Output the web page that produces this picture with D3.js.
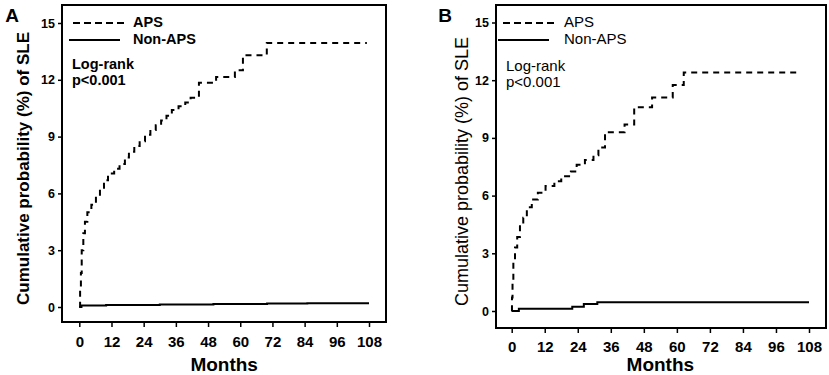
<!DOCTYPE html>
<html lang="en">
<head>
  <meta charset="UTF-8">
  <title>Cumulative probability of SLE</title>
  <script src="https://d3js.org/d3.v7.min.js"></script>
  <style>
    * { margin: 0; padding: 0; box-sizing: border-box; }
    body { background: #fff; font-family: Arial, "Liberation Sans", sans-serif; }
    svg { display: block; }
  </style>
</head>
<body>
  <div id="chart"></div>
  <script>
    // tick labels
    const monthTicks = [0, 12, 24, 36, 48, 60, 72, 84, 96, 108];
    const probTicks = [0, 3, 6, 9, 12, 15];

    // panel A, APS (months, cumulative %)
    const apsMonthsA = [0, 0.3, 0.6, 0.9, 1.5, 2.1, 3.0, 4.5, 6.2, 7.7, 9.2, 10.7, 13, 15, 17, 18.5, 20.5, 22.5, 24.5, 26.5, 28.5, 30.5, 32.5, 34.5, 37, 39.5, 41.5, 44.6, 51, 58, 61, 69.9, 107.2];
    const apsValuesA = [0, 1.0, 1.8, 3.0, 3.9, 4.5, 5.0, 5.4, 5.85, 6.3, 6.7, 7.05, 7.3, 7.55, 7.9, 8.2, 8.5, 8.75, 9.1, 9.35, 9.6, 9.85, 10.1, 10.4, 10.6, 10.8, 11.05, 11.85, 12.15, 12.5, 13.3, 13.95, 13.95];
    // panel A, Non-APS
    const nonMonthsA = [0, 0.8, 10, 30, 50, 70, 85, 108];
    const nonValuesA = [0, 0.08, 0.1, 0.13, 0.16, 0.19, 0.2, 0.2];

    // panel B, APS
    const apsMonthsB = [0, 0.1, 0.3, 0.6, 1.2, 2, 3, 4.2, 5.5, 7.3, 9.5, 12.3, 15.5, 18, 21.5, 23.6, 26.6, 29.7, 31.5, 33.9, 41, 44.5, 51, 58.5, 62.5, 103.6];
    const apsValuesB = [0, 0.7, 1.6, 2.6, 3.3, 3.85, 4.5, 4.85, 5.4, 5.8, 6.15, 6.5, 6.75, 7.0, 7.25, 7.6, 7.85, 8.1, 8.5, 9.3, 9.7, 10.6, 11.1, 11.75, 12.4, 12.4];
    // panel B, Non-APS
    const nonMonthsB = [0, 2.6, 22, 26.2, 31.1, 108];
    const nonValuesB = [0, 0.12, 0.22, 0.36, 0.46, 0.46];

    const zip = (ms, vs) => ms.map((m, i) => ({ m, v: vs[i] }));

    const svg = d3.select("#chart").append("svg")
      .attr("width", 829)
      .attr("height", 375);

    const panels = [
      {
        letter: "A", letterX: 12, bold: true,
        box: { left: 62, right: 386, top: 5, bottom: 322 },
        xr: [79.3, 369], yr: [307, 23],
        ylabX: 25, tickLabY: 342,
        legX: 73, legSolidX: 69, legTextX: 133, logX: 72, logY: 69,
        legFont: 14.5,
        aps: zip(apsMonthsA, apsValuesA), non: zip(nonMonthsA, nonValuesA)
      },
      {
        letter: "B", letterX: 445, bold: false,
        box: { left: 496, right: 826, top: 5, bottom: 328 },
        xr: [511.7, 809], yr: [311, 22.5],
        ylabX: 463, tickLabY: 347,
        legX: 503, legSolidX: 498, legTextX: 564, logX: 506, logY: 71,
        legFont: 15,
        aps: zip(apsMonthsB, apsValuesB), non: zip(nonMonthsB, nonValuesB)
      }
    ];

    panels.forEach(p => {
      const g = svg.append("g");
      const x = d3.scaleLinear().domain([0, 108]).range(p.xr);
      const y = d3.scaleLinear().domain([0, 15]).range(p.yr);
      const b = p.box;

      // panel letter
      g.append("text")
        .attr("x", p.letterX)
        .attr("y", 22)
        .attr("text-anchor", "middle")
        .style("font-size", "19px")
        .style("font-weight", "bold")
        .text(p.letter);

      // box
      g.append("rect")
        .attr("x", b.left)
        .attr("y", b.top)
        .attr("width", b.right - b.left)
        .attr("height", b.bottom - b.top)
        .attr("fill", "none")
        .attr("stroke", "#000")
        .attr("stroke-width", 2);

      // y axis
      const yAxis = g.append("g")
        .attr("transform", `translate(${b.left},0)`)
        .call(d3.axisLeft(y).tickValues(probTicks).tickSize(4).tickPadding(3).tickSizeOuter(0));
      yAxis.select(".domain").remove();
      yAxis.selectAll("line").attr("stroke-width", 1.5);
      yAxis.selectAll("text")
        .style("font-size", "12.5px")
        .style("font-weight", "bold")
        .style("font-family", "Arial, 'Liberation Sans', sans-serif");

      // x axis
      const xAxis = g.append("g")
        .attr("transform", `translate(0,${b.bottom})`)
        .call(d3.axisBottom(x).tickValues(monthTicks).tickSize(5).tickSizeOuter(0));
      xAxis.select(".domain").remove();
      xAxis.selectAll("line").attr("stroke-width", 1.5);
      xAxis.selectAll("text")
        .attr("y", p.tickLabY - b.bottom)
        .attr("dy", "0.35em")
        .style("font-size", "15px")
        .style("font-weight", "bold")
        .style("font-family", "Arial, 'Liberation Sans', sans-serif");

      // axis titles
      g.append("text")
        .attr("x", (p.xr[0] + p.xr[1]) / 2)
        .attr("y", 371)
        .attr("text-anchor", "middle")
        .style("font-size", "19px")
        .style("font-weight", "bold")
        .text("Months");

      g.append("text")
        .attr("transform", `translate(${p.ylabX},${(b.top + b.bottom) / 2 + 5}) rotate(-90)`)
        .attr("text-anchor", "middle")
        .attr("dominant-baseline", "middle")
        .style("font-size", p.bold ? "17px" : "18px")
        .style("font-weight", p.bold ? "bold" : "normal")
        .text("Cumulative probability (%) of SLE");

      // curves
      const line = d3.line()
        .x(d => x(d.m))
        .y(d => y(d.v))
        .curve(d3.curveStepAfter);

      g.append("path")
        .datum(p.non)
        .attr("d", line)
        .attr("fill", "none")
        .attr("stroke", "#000")
        .attr("stroke-width", 2);

      g.append("path")
        .datum(p.aps)
        .attr("d", line)
        .attr("fill", "none")
        .attr("stroke", "#000")
        .attr("stroke-width", 2)
        .attr("stroke-dasharray", "6,5");

      // legend
      const fw = p.bold ? "bold" : "normal";
      g.append("line")
        .attr("x1", p.legX).attr("x2", p.legX + 51)
        .attr("y1", 23).attr("y2", 23)
        .attr("stroke", "#000").attr("stroke-width", 2)
        .attr("stroke-dasharray", "7,4");
      g.append("line")
        .attr("x1", p.legSolidX).attr("x2", p.legSolidX + 51)
        .attr("y1", 40).attr("y2", 40)
        .attr("stroke", "#000").attr("stroke-width", 2);
      g.append("text")
        .attr("x", p.legTextX).attr("y", 27)
        .style("font-size", p.legFont + "px").style("font-weight", fw)
        .text("APS");
      g.append("text")
        .attr("x", p.legTextX).attr("y", 44)
        .style("font-size", p.legFont + "px").style("font-weight", fw)
        .text("Non-APS");
      g.append("text")
        .attr("x", p.logX).attr("y", p.logY)
        .style("font-size", p.legFont + "px").style("font-weight", fw)
        .text("Log-rank");
      g.append("text")
        .attr("x", p.logX).attr("y", p.logY + 16)
        .style("font-size", p.legFont + "px").style("font-weight", fw)
        .text("p<0.001");
    });
  </script>
</body>
</html>
